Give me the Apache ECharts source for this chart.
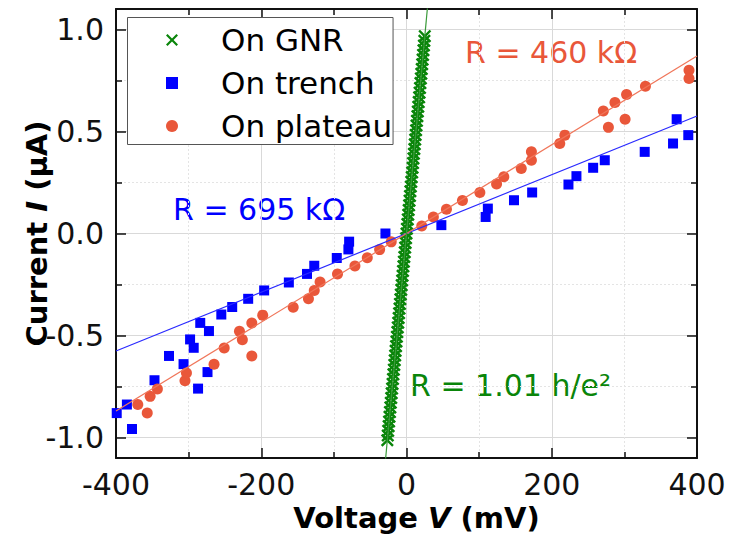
<!DOCTYPE html>
<html>
<head>
<meta charset="utf-8">
<title>Current–voltage curves</title>
<script src="https://cdn.jsdelivr.net/npm/echarts@6/dist/echarts.min.js"></script>
<style>
  html, body { margin: 0; padding: 0; background: #fff; }
  #chart { width: 737px; height: 542px; }
</style>
</head>
<body>
<div id="chart"></div>
<script>
// Current–voltage sweeps: voltage in mV, current in μA
const trenchVoltage = [-399, -385, -378, -347, -327, -307, -298, -293, -287, -284, -274, -272, -255, -240, -218, -196, -162, -137, -127, -96, -80, -79, -29, 48, 109, 112, 148, 173, 223, 234, 257, 273, 328, 367, 372, 388];
const trenchCurrent = [-0.880, -0.838, -0.958, -0.719, -0.600, -0.640, -0.519, -0.560, -0.760, -0.438, -0.679, -0.478, -0.397, -0.360, -0.320, -0.279, -0.240, -0.198, -0.158, -0.120, -0.078, -0.040, 0.000, 0.041, 0.081, 0.122, 0.163, 0.201, 0.240, 0.281, 0.322, 0.359, 0.400, 0.441, 0.560, 0.482];

const plateauVoltage = [-370, -357, -353, -343, -305, -303, -265, -251, -230, -226, -213, -213, -198, -156, -135, -127, -119, -95, -71, -54, -37, -21, 21, 37, 55, 77, 101, 124, 134, 158, 172, 172, 211, 218, 271, 278, 287, 301, 303, 329, 389, 389];
const plateauCurrent = [-0.838, -0.879, -0.798, -0.762, -0.722, -0.683, -0.641, -0.561, -0.479, -0.520, -0.600, -0.438, -0.400, -0.361, -0.320, -0.279, -0.238, -0.198, -0.159, -0.119, -0.079, -0.041, 0.037, 0.081, 0.119, 0.162, 0.201, 0.242, 0.278, 0.319, 0.359, 0.400, 0.441, 0.482, 0.600, 0.520, 0.642, 0.560, 0.681, 0.722, 0.800, 0.760];

const gnrVoltage = [-26.4, -25.8, -25.2, -24.6, -24.0, -23.4, -22.8, -22.2, -21.6, -21.0, -20.4, -19.8, -19.2, -18.6, -18.0, -17.4, -16.8, -16.2, -15.6, -15.0, -14.4, -13.8, -13.2, -12.6, -12.0, -11.4, -10.8, -10.2, -9.6, -9.0, -8.4, -7.8, -7.2, -6.6, -6.0, -5.4, -4.8, -4.2, -3.6, -3.0, -2.4, -1.8, -1.2, -0.6, 0.0, 0.6, 1.2, 1.8, 2.4, 3.0, 3.6, 4.2, 4.8, 5.4, 6.0, 6.6, 7.2, 7.8, 8.4, 9.0, 9.6, 10.2, 10.8, 11.4, 12.0, 12.6, 13.2, 13.8, 14.4, 15.0, 15.6, 16.2, 16.8, 17.4, 18.0, 18.6, 19.2, 19.8, 20.4, 21.0, 21.6, 22.2, 22.8, 23.4, 24.0, 24.6, 25.2];
const gnrCurrent = [-1.013, -0.990, -0.967, -0.944, -0.921, -0.898, -0.875, -0.852, -0.829, -0.806, -0.783, -0.760, -0.737, -0.713, -0.690, -0.667, -0.644, -0.621, -0.598, -0.575, -0.552, -0.529, -0.506, -0.483, -0.460, -0.437, -0.414, -0.391, -0.368, -0.345, -0.322, -0.299, -0.276, -0.253, -0.230, -0.207, -0.184, -0.161, -0.138, -0.115, -0.092, -0.069, -0.046, -0.023, 0.000, 0.023, 0.046, 0.069, 0.092, 0.115, 0.138, 0.161, 0.184, 0.207, 0.230, 0.253, 0.276, 0.299, 0.322, 0.345, 0.368, 0.391, 0.414, 0.437, 0.460, 0.483, 0.506, 0.529, 0.552, 0.575, 0.598, 0.621, 0.644, 0.667, 0.690, 0.713, 0.737, 0.760, 0.783, 0.806, 0.829, 0.852, 0.875, 0.898, 0.921, 0.944, 0.967];

// Fitted resistances (kΩ); the von Klitzing constant h/e² in kΩ
const H_OVER_E2 = 25.8128;
const rTrench = 695;
const rPlateau = 460;
const gnrFactor = 1.01;
const rGnr = gnrFactor * H_OVER_E2;

// Voltage span of each fit line (mV)
const wideFitSpan = [-400, 400];
const gnrFitSpan = [-30, 30];

// Axis ticks
const voltageTicks = [-400, -200, 0, 200, 400];
const currentMajorTicks = [-1.0, -0.5, 0.0, 0.5, 1.0];
const currentMinorTicks = [-0.75, -0.25, 0.25, 0.75];

const seriesNames = ['On GNR', 'On trench', 'On plateau'];
const labelTrench = 'R = ' + rTrench + ' kΩ';
const labelPlateau = 'R = ' + rPlateau + ' kΩ';
const labelGnr = 'R = ' + gnrFactor.toFixed(2) + ' h/e²';

const FONT = 'DejaVu Sans';
const GREEN = '#0a850a';
const BLUE = '#0000ff';
const RED = '#e9573a';

const zip = (xs, ys) => xs.map((x, i) => [x, ys[i]]);
const ohmLine = (span, r) => span.map(v => [v, v / r]);

// Filled glyphs: a "×" for the GNR sweep and a square for the trench sweep
const CROSS = 'path://M0,1.3L1.3,0L5,3.7L8.7,0L10,1.3L6.3,5L10,8.7L8.7,10L5,6.3L1.3,10L0,8.7L3.7,5Z';
const SQUARE = 'path://M0,0H10V10H0Z';

const chart = echarts.init(document.getElementById('chart'), null, { renderer: 'svg' });

const frameLine = { show: true, onZero: false, lineStyle: { color: '#111', width: 2 } };
const hiddenLine = { show: false, onZero: false };
const yBase = { type: 'value', min: -1.1, max: 1.1, scale: false };

chart.setOption({
  animation: false,
  backgroundColor: '#fff',
  textStyle: { fontFamily: FONT },
  grid: { left: 116, right: 40, top: 9, bottom: 84, containLabel: false },
  legend: {
    orient: 'vertical',
    left: 127.5,
    top: 17.5,
    data: seriesNames,
    selectedMode: false,
    padding: [7, 1, 3, 38.5],
    itemWidth: 12,
    itemHeight: 12,
    itemGap: 12,
    borderColor: '#555',
    borderWidth: 1,
    borderRadius: 0,
    backgroundColor: '#fff',
    textStyle: { fontFamily: FONT, fontSize: 31, color: '#000', padding: [0, 0, 0, 38] }
  },
  xAxis: [
    {
      type: 'value', position: 'bottom', min: -400, max: 400, interval: 200,
      axisLine: frameLine,
      axisTick: { show: true, inside: true, length: 10, lineStyle: { color: '#111', width: 1.5 } },
      minorTick: { show: true, splitNumber: 2, length: 6, lineStyle: { color: '#111', width: 1.5 } },
      axisLabel: { show: true, margin: 11, fontFamily: FONT, fontSize: 30, color: '#111',
        customValues: voltageTicks },
      splitLine: { show: true, lineStyle: { color: '#d9d9d9', width: 1 } },
      minorSplitLine: { show: true, lineStyle: { color: '#e4e4e4', width: 1, type: [2, 2] } },
      name: '{b|Voltage }{i|V}{b| (mV)}',
      nameLocation: 'middle',
      nameGap: 45,
      nameTextStyle: {
        padding: [0, 0, 0, 20],
        rich: {
          b: { fontFamily: FONT, fontSize: 29, fontWeight: 'bold', color: '#000' },
          i: { fontFamily: FONT, fontSize: 29, fontWeight: 'bold', fontStyle: 'italic', color: '#000' }
        }
      }
    },
    {
      type: 'value', position: 'top', min: -400, max: 400, interval: 200,
      axisLine: frameLine,
      axisTick: { show: true, inside: true, length: 10, lineStyle: { color: '#111', width: 1.5 } },
      minorTick: { show: true, splitNumber: 2, length: 6, lineStyle: { color: '#111', width: 1.5 } },
      axisLabel: { show: false },
      splitLine: { show: false }
    }
  ],
  yAxis: [
    Object.assign({}, yBase, {
      position: 'left',
      axisLine: frameLine,
      axisTick: { show: true, inside: true, length: 10, customValues: currentMajorTicks,
        lineStyle: { color: '#111', width: 1.5 } },
      axisLabel: { show: true, margin: 12, fontFamily: FONT, fontSize: 30, color: '#111',
        customValues: currentMajorTicks, formatter: v => v.toFixed(1) },
      splitLine: { show: true, lineStyle: { color: '#d9d9d9', width: 1 } },
      name: '{b|Current }{i|I}{b| (μA)}',
      nameLocation: 'middle',
      nameRotate: 90,
      nameGap: 65,
      nameMoveOverlap: false,
      nameTextStyle: {
        rich: {
          b: { fontFamily: FONT, fontSize: 29, fontWeight: 'bold', color: '#000' },
          i: { fontFamily: FONT, fontSize: 29, fontWeight: 'bold', fontStyle: 'italic', color: '#000' }
        }
      }
    }),
    Object.assign({}, yBase, {
      position: 'left',
      axisLine: hiddenLine,
      axisTick: { show: true, inside: true, length: 6, customValues: currentMinorTicks,
        lineStyle: { color: '#111', width: 1.5 } },
      axisLabel: { show: false, customValues: currentMinorTicks },
      splitLine: { show: true, lineStyle: { color: '#e4e4e4', width: 1, type: [2, 2] } }
    }),
    Object.assign({}, yBase, {
      position: 'right',
      axisLine: frameLine,
      axisTick: { show: true, inside: true, length: 10, customValues: currentMajorTicks,
        lineStyle: { color: '#111', width: 1.5 } },
      axisLabel: { show: false, customValues: currentMajorTicks },
      splitLine: { show: false }
    }),
    Object.assign({}, yBase, {
      position: 'right',
      axisLine: hiddenLine,
      axisTick: { show: true, inside: true, length: 6, customValues: currentMinorTicks,
        lineStyle: { color: '#111', width: 1.5 } },
      axisLabel: { show: false, customValues: currentMinorTicks },
      splitLine: { show: false }
    })
  ],
  series: [
    {
      name: 'trench fit', type: 'line', data: ohmLine(wideFitSpan, rTrench),
      showSymbol: false, silent: true, clip: true,
      lineStyle: { color: '#2a2aff', width: 1.2 }
    },
    {
      name: 'plateau fit', type: 'line', data: ohmLine(wideFitSpan, rPlateau),
      showSymbol: false, silent: true, clip: true,
      lineStyle: { color: '#f0765a', width: 1.2 }
    },
    {
      name: 'GNR fit', type: 'line', data: ohmLine(gnrFitSpan, rGnr),
      showSymbol: false, silent: true, clip: true,
      lineStyle: { color: '#3a9a3a', width: 1.2 }
    },
    {
      name: 'On trench', type: 'scatter', data: zip(trenchVoltage, trenchCurrent),
      symbol: SQUARE, symbolSize: 10,
      itemStyle: { color: BLUE, opacity: 1 }
    },
    {
      name: 'On plateau', type: 'scatter', data: zip(plateauVoltage, plateauCurrent),
      symbol: 'circle', symbolSize: 11,
      itemStyle: { color: RED, opacity: 1 }
    },
    {
      name: 'On GNR', type: 'scatter', data: zip(gnrVoltage, gnrCurrent),
      symbol: CROSS, symbolSize: 13,
      itemStyle: { color: GREEN, opacity: 1 }
    }
  ],
  graphic: [
    { type: 'text', left: 173, top: 194, silent: true,
      style: { text: labelTrench, fill: BLUE, font: '30px "DejaVu Sans"' } },
    { type: 'text', left: 465, top: 37, silent: true,
      style: { text: labelPlateau, fill: RED, font: '30px "DejaVu Sans"' } },
    { type: 'text', left: 410, top: 370, silent: true,
      style: { text: labelGnr, fill: GREEN, font: '30px "DejaVu Sans"' } }
  ]
});
</script>
</body>
</html>
